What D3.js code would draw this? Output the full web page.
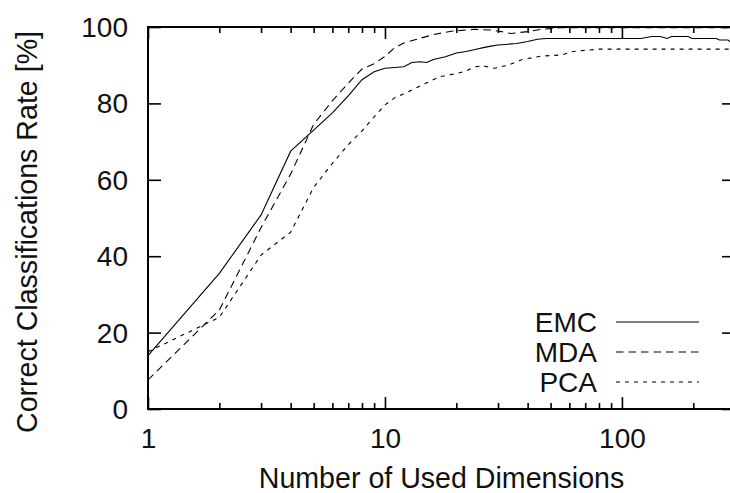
<!DOCTYPE html>
<html>
<head>
<meta charset="utf-8">
<script src="https://cdn.jsdelivr.net/npm/d3@7"></script>
<style>
  html, body { margin: 0; padding: 0; background: #fff; }
  svg { display: block; }
  text { font-family: "Liberation Sans", Arial, sans-serif; fill: #111; }
</style>
</head>
<body>
<svg id="chart" width="730" height="493"></svg>
<script>
// Classification rate versus number of used dimensions, for three methods
const emcDims = [1, 2, 3, 4, 5, 6, 7, 8, 9, 10, 11, 12, 13, 14, 15, 16, 18, 20, 22, 24, 26, 28, 30, 33, 36, 40, 44, 48, 60, 80, 100, 120, 134, 145, 155, 162, 190, 198, 250, 258, 280, 285, 300];
const emcRate = [14, 35.5, 50.8, 67.5, 73, 77.5, 82, 86.2, 88.3, 89.2, 89.4, 89.6, 90.7, 90.9, 90.7, 91.5, 92.2, 93.2, 93.6, 94.1, 94.6, 95, 95.3, 95.5, 95.7, 96.2, 96.8, 97, 97, 97, 97, 97, 97.5, 97.5, 97, 97.5, 97.5, 97, 97, 96.6, 96.6, 96.2, 96.2];

const mdaDims = [1, 2, 3, 4, 5, 6, 7, 8, 9, 10, 11, 12, 14, 16, 19, 24, 28, 31, 34, 40, 46, 55, 80, 150, 300];
const mdaRate = [7.6, 25.9, 47.5, 61.5, 74.5, 80.7, 85.3, 89.0, 90.4, 92.3, 94.6, 95.8, 97.0, 98.0, 98.9, 99.4, 99.2, 98.8, 98.3, 98.8, 99.4, 99.8, 99.8, 99.8, 99.8];

const pcaDims = [1, 2, 3, 4, 5, 6, 7, 8, 9, 10, 11, 12, 14, 17, 20, 22, 24, 26, 29, 33, 38, 46, 56, 62, 80, 150, 300];
const pcaRate = [15, 24, 40.3, 46.3, 58, 64.3, 69.2, 72.8, 76.5, 79.6, 81.5, 82.5, 84.5, 87, 87.8, 88.5, 89.6, 89.8, 89.2, 90, 91.5, 92.4, 92.7, 93.6, 94.2, 94.2, 94.2];

const xMajorTicks = [1, 10, 100];
const xMinorTicks = [2, 3, 4, 5, 6, 7, 8, 9, 20, 30, 40, 50, 60, 70, 80, 90, 200, 300];
const yTicks = [0, 20, 40, 60, 80, 100];

const seriesNames = ["EMC", "MDA", "PCA"];

const svg = d3.select("#chart");
const plotLeft = 148, plotRight = 735, plotTop = 27, plotBottom = 409;

const x = d3.scaleLog().domain([1, 300]).range([plotLeft, plotRight]);
const y = d3.scaleLinear().domain([0, 100]).range([plotBottom, plotTop]);

const tickFont = 28;
const titleFont = 28.6;

// Tick marks on all four sides, pointing into the plot
function styleAxis(g) {
  g.select(".domain").remove();
  g.selectAll(".tick line").attr("stroke", "#000").attr("stroke-width", 1.6);
  g.selectAll(".tick text").style("font-size", tickFont + "px").attr("fill", "#111");
}

svg.append("g")
  .attr("transform", `translate(0,${plotBottom})`)
  .call(d3.axisBottom(x).tickValues(xMajorTicks).tickFormat(d3.format("d"))
    .tickSizeInner(-12).tickSizeOuter(0).tickPadding(19))
  .call(styleAxis);
svg.append("g")
  .attr("transform", `translate(0,${plotBottom})`)
  .call(d3.axisBottom(x).tickValues(xMinorTicks).tickFormat("")
    .tickSizeInner(-6).tickSizeOuter(0))
  .call(styleAxis);
svg.append("g")
  .attr("transform", `translate(0,${plotTop})`)
  .call(d3.axisTop(x).tickValues(xMajorTicks).tickFormat("")
    .tickSizeInner(-12).tickSizeOuter(0))
  .call(styleAxis);
svg.append("g")
  .attr("transform", `translate(0,${plotTop})`)
  .call(d3.axisTop(x).tickValues(xMinorTicks).tickFormat("")
    .tickSizeInner(-6).tickSizeOuter(0))
  .call(styleAxis);

svg.append("g")
  .attr("transform", `translate(${plotLeft},0)`)
  .call(d3.axisLeft(y).tickValues(yTicks).tickFormat(d3.format("d"))
    .tickSizeInner(-13).tickSizeOuter(0).tickPadding(20))
  .call(styleAxis)
  .call(g => g.selectAll(".tick text").attr("dy", "0.34em"));
svg.append("g")
  .attr("transform", `translate(${plotRight},0)`)
  .call(d3.axisRight(y).tickValues(yTicks).tickFormat("")
    .tickSizeInner(-13).tickSizeOuter(0))
  .call(styleAxis);

// Plot frame
svg.append("rect")
  .attr("x", plotLeft).attr("y", plotTop)
  .attr("width", plotRight - plotLeft).attr("height", plotBottom - plotTop)
  .attr("fill", "none").attr("stroke", "#000").attr("stroke-width", 2);

// Curves
const line = d3.line().x(d => x(d[0])).y(d => y(d[1]));
const series = [
  { name: seriesNames[0], dims: emcDims, rate: emcRate, dash: null },
  { name: seriesNames[1], dims: mdaDims, rate: mdaRate, dash: "7.5,5" },
  { name: seriesNames[2], dims: pcaDims, rate: pcaRate, dash: "4,5" }
];

svg.append("defs").append("clipPath").attr("id", "plot-clip")
  .append("rect").attr("x", plotLeft).attr("y", plotTop - 1)
  .attr("width", plotRight - plotLeft).attr("height", plotBottom - plotTop + 1);

const curves = svg.append("g").attr("clip-path", "url(#plot-clip)");
series.forEach(s => {
  curves.append("path")
    .datum(d3.zip(s.dims, s.rate))
    .attr("d", line)
    .attr("fill", "none")
    .attr("stroke", "#000")
    .attr("stroke-width", 1.1)
    .attr("stroke-dasharray", s.dash);
});

// Legend
const legend = svg.append("g");
series.forEach((s, i) => {
  const ly = 322 + i * 30;
  legend.append("text")
    .attr("x", 597).attr("y", ly + 10)
    .attr("text-anchor", "end")
    .style("font-size", tickFont + "px")
    .text(s.name);
  legend.append("line")
    .attr("x1", 616).attr("x2", 699)
    .attr("y1", ly).attr("y2", ly)
    .attr("stroke", "#000").attr("stroke-width", 1.1)
    .attr("stroke-dasharray", s.dash);
});

// Axis titles
svg.append("text")
  .attr("x", (plotLeft + plotRight) / 2).attr("y", 488)
  .attr("text-anchor", "middle")
  .style("font-size", titleFont + "px")
  .text("Number of Used Dimensions");

svg.append("text")
  .attr("transform", "translate(37,232) rotate(-90)")
  .attr("text-anchor", "middle")
  .style("font-size", titleFont + "px")
  .text("Correct Classifications Rate [%]");
</script>
</body>
</html>
